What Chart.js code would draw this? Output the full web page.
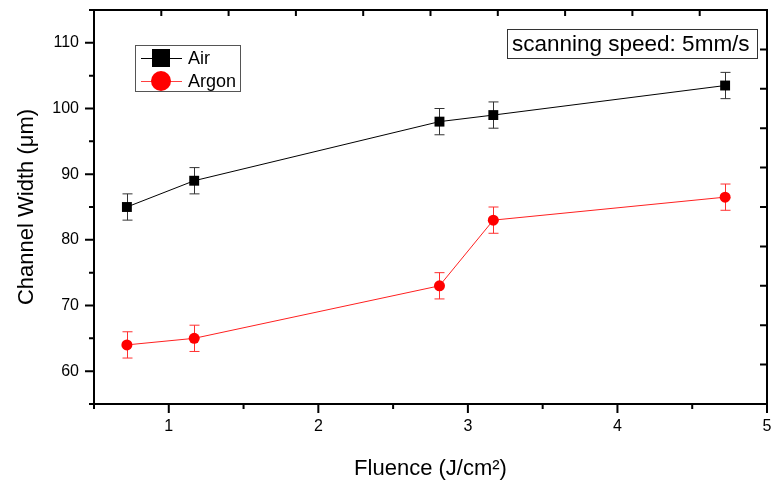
<!DOCTYPE html>
<html>
<head>
<meta charset="utf-8">
<script src="https://cdn.jsdelivr.net/npm/chart.js@4"></script>
<style>
  body { margin: 0; background: #fff; }
  canvas { display: block; }
</style>
</head>
<body>
<canvas id="fluenceChart" width="779" height="482"></canvas>
<script>
// values
var fluence = [0.72, 1.17, 2.81, 3.17, 4.72];
var airWidth = [85, 89, 98, 99, 103.5];
var argonWidth = [64, 65, 73, 83, 86.5];
var airErr = [2, 2, 2, 2, 2];
var argonErr = [2, 2, 2, 2, 2];
var yTicks = [60, 70, 80, 90, 100, 110];
var xTicks = [1, 2, 3, 4, 5];

var FONT = '"Liberation Sans", Arial, sans-serif';

function points(xs, ys) {
    return xs.map(function (x, i) { return { x: x, y: ys[i] }; });
}

// frame, tick marks, error bars, legend and the note box
var decorations = {
    id: 'decorations',
    beforeDatasetsDraw: function (chart) {
        var ctx = chart.ctx;
        var x = chart.scales.x, y = chart.scales.y;
        var errs = [airErr, argonErr];
        var cols = ['#333333', '#ff3030'];
        chart.data.datasets.forEach(function (ds, d) {
            ctx.save();
            ctx.strokeStyle = cols[d];
            ctx.lineWidth = 1;
            ds.data.forEach(function (p, i) {
                var px = Math.round(x.getPixelForValue(p.x)) + 0.5;
                var top = y.getPixelForValue(p.y + errs[d][i]);
                var bot = y.getPixelForValue(p.y - errs[d][i]);
                ctx.beginPath();
                ctx.moveTo(px, top); ctx.lineTo(px, bot);
                ctx.moveTo(px - 5, top); ctx.lineTo(px + 5, top);
                ctx.moveTo(px - 5, bot); ctx.lineTo(px + 5, bot);
                ctx.stroke();
            });
            ctx.restore();
        });
    },
    afterDraw: function (chart) {
        var ctx = chart.ctx;
        var a = chart.chartArea;
        var x = chart.scales.x, y = chart.scales.y;
        ctx.save();
        ctx.strokeStyle = '#000';
        ctx.lineWidth = 2;
        ctx.strokeRect(a.left, a.top, a.right - a.left, a.bottom - a.top);

        ctx.beginPath();
        // left axis, outward
        y.ticks.forEach(function (t) {
            var py = y.getPixelForValue(t.value);
            var len = yTicks.indexOf(t.value) >= 0 ? 9 : 5;
            ctx.moveTo(a.left, py); ctx.lineTo(a.left - len, py);
        });
        // bottom axis, outward
        x.ticks.forEach(function (t) {
            var px = x.getPixelForValue(t.value);
            var len = xTicks.indexOf(t.value) >= 0 ? 9 : 5;
            ctx.moveTo(px, a.bottom); ctx.lineTo(px, a.bottom + len);
        });
        // top and right axes, inward, ten divisions
        for (var k = 1; k < 10; k++) {
            var tx = a.left + (a.right - a.left) * k / 10;
            ctx.moveTo(tx, a.top); ctx.lineTo(tx, a.top + 6);
            var ty = a.top + (a.bottom - a.top) * k / 10;
            ctx.moveTo(a.right, ty); ctx.lineTo(a.right - 7, ty);
        }
        ctx.stroke();

        // legend
        ctx.lineWidth = 1;
        ctx.strokeStyle = '#555';
        ctx.strokeRect(135.5, 45.5, 105, 46);
        var rows = [
            { label: 'Air', color: '#000', shape: 'rect', cy: 58 },
            { label: 'Argon', color: '#ff0000', shape: 'circle', cy: 81 }
        ];
        rows.forEach(function (r) {
            ctx.strokeStyle = r.color === '#000' ? '#000' : '#ff4040';
            ctx.beginPath();
            ctx.moveTo(141, r.cy + 0.5); ctx.lineTo(182, r.cy + 0.5);
            ctx.stroke();
            ctx.fillStyle = r.color;
            if (r.shape === 'rect') {
                ctx.fillRect(152, r.cy - 9, 18, 18);
            } else {
                ctx.beginPath();
                ctx.arc(161, r.cy, 10, 0, Math.PI * 2);
                ctx.fill();
            }
            ctx.fillStyle = '#000';
            ctx.font = '18px ' + FONT;
            ctx.textBaseline = 'middle';
            ctx.textAlign = 'left';
            ctx.fillText(r.label, 188, r.cy + 1);
        });

        // note box
        ctx.strokeStyle = '#333';
        ctx.strokeRect(507.5, 29.5, 250, 29);
        ctx.font = '22.5px ' + FONT;
        ctx.fillStyle = '#000';
        ctx.fillText('scanning speed: 5mm/s', 512, 45);
        ctx.restore();
    }
};

new Chart(document.getElementById('fluenceChart').getContext('2d'), {
    type: 'scatter',
    data: {
        datasets: [{
            label: 'Air',
            data: points(fluence, airWidth),
            showLine: true,
            borderColor: '#000',
            borderWidth: 1,
            backgroundColor: '#000',
            pointStyle: 'rect',
            pointRadius: 7,
            pointBorderWidth: 0
        }, {
            label: 'Argon',
            data: points(fluence, argonWidth),
            showLine: true,
            borderColor: '#ff2020',
            borderWidth: 1,
            backgroundColor: '#ff0000',
            pointStyle: 'circle',
            pointRadius: 5.5,
            pointBorderWidth: 0
        }]
    },
    options: {
        responsive: false,
        animation: false,
        layout: { padding: { top: 10, right: 12, left: 0, bottom: 0 } },
        plugins: {
            legend: { display: false },
            tooltip: { enabled: false }
        },
        scales: {
            x: {
                type: 'linear',
                min: 0.5,
                max: 5,
                grid: { display: false, drawTicks: false },
                border: { display: false },
                ticks: {
                    stepSize: 0.5,
                    padding: 13,
                    color: '#000',
                    font: { size: 16, family: FONT },
                    maxRotation: 0,
                    autoSkip: false,
                    callback: function (v) { return xTicks.indexOf(v) >= 0 ? v : ''; }
                },
                title: {
                    display: true,
                    text: 'Fluence (J/cm²)',
                    color: '#000',
                    font: { size: 22, family: FONT },
                    padding: { top: 0, bottom: 0 }
                },
                afterFit: function (s) {
                    s.height = 78;
                    s.paddingLeft = 0;
                    s.paddingRight = 0;
                }
            },
            y: {
                min: 55,
                max: 115,
                grid: { display: false, drawTicks: false },
                border: { display: false },
                ticks: {
                    stepSize: 5,
                    padding: 15,
                    color: '#000',
                    font: { size: 16, family: FONT },
                    autoSkip: false,
                    callback: function (v) { return yTicks.indexOf(v) >= 0 ? v : ''; }
                },
                title: {
                    display: true,
                    text: 'Channel Width (μm)',
                    color: '#000',
                    font: { size: 22, family: FONT },
                    padding: { top: 14, bottom: 0 }
                },
                afterFit: function (s) {
                    s.width = 94;
                    s.paddingTop = 0;
                    s.paddingBottom = 0;
                }
            }
        }
    },
    plugins: [decorations]
});
</script>
</body>
</html>
